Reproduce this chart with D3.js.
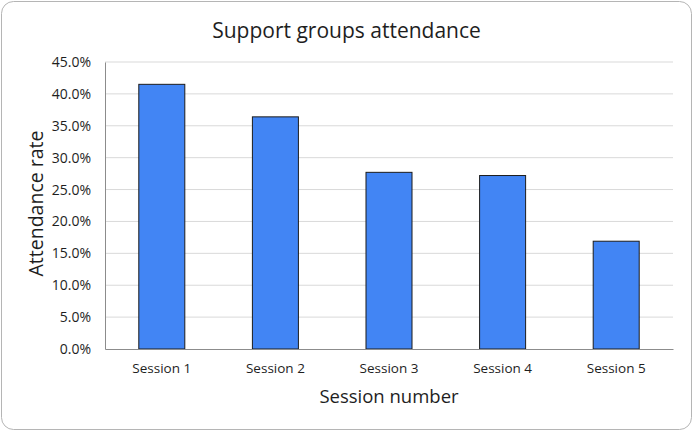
<!DOCTYPE html>
<html>
<head>
<meta charset="utf-8">
<script src="https://cdn.jsdelivr.net/npm/d3@7"></script>
<style>
  body { margin: 0; background: white; }
  text { font-family: "Open Sans", "Noto Sans", sans-serif; fill: #1e1e1e; }
</style>
</head>
<body>
<div id="chart"></div>
<script>
const sessions = ["Session 1", "Session 2", "Session 3", "Session 4", "Session 5"];
const attendance = [0.415, 0.364, 0.277, 0.272, 0.169];
const yTicks = [0, 0.05, 0.10, 0.15, 0.20, 0.25, 0.30, 0.35, 0.40, 0.45];

const width = 693, height = 431;
const margin = {top: 62, right: 20, bottom: 82, left: 105};

const svg = d3.select("#chart")
  .append("svg")
    .attr("width", width)
    .attr("height", height)
    .style("display", "block")

// outer frame
svg.append("rect")
  .attr("x", 1.5).attr("y", 1.5)
  .attr("width", width - 3).attr("height", height - 3)
  .attr("rx", 12)
  .attr("fill", "white")
  .attr("stroke", "#b5b5b5")

const x = d3.scaleBand()
  .domain(sessions)
  .range([margin.left, width - margin.right])

const y = d3.scaleLinear()
  .domain([0, 0.45])
  .range([height - margin.bottom, margin.top])

// gridlines
svg.append("g")
  .selectAll("line")
  .data(yTicks.slice(1))
  .join("line")
    .attr("x1", margin.left).attr("x2", width - margin.right)
    .attr("y1", d => y(d)).attr("y2", d => y(d))
    .attr("stroke", "#d9d9d9")

// bars
const barW = x.bandwidth() * 0.405
svg.append("g")
  .selectAll("rect")
  .data(attendance)
  .join("rect")
    .attr("x", (d, i) => x(sessions[i]) + (x.bandwidth() - barW) / 2)
    .attr("y", d => y(d))
    .attr("width", barW)
    .attr("height", d => y(0) - y(d))
    .attr("fill", "#4285f4")
    .attr("stroke", "#1c1c1c")
    .attr("stroke-width", 1)

// y axis
const yAxis = svg.append("g")
  .attr("transform", `translate(${margin.left},0)`)
  .call(d3.axisLeft(y).tickValues(yTicks).tickFormat(d3.format(".1%")).tickSize(0).tickPadding(14))
yAxis.select(".domain").attr("stroke", "#8c8c8c")
yAxis.selectAll("text").style("font-size", "14px").style("font-family", "\"Open Sans\", sans-serif").attr("fill", "#1e1e1e")

// x axis
const xAxis = svg.append("g")
  .attr("transform", `translate(0,${y(0)})`)
  .call(d3.axisBottom(x).tickSize(0).tickPadding(14))
xAxis.select(".domain").attr("stroke", "#8c8c8c")
xAxis.selectAll("text").style("font-size", "13.5px").style("font-family", "\"Open Sans\", sans-serif").attr("fill", "#1e1e1e")

// titles
svg.append("text")
  .attr("x", width / 2)
  .attr("y", 38)
  .attr("text-anchor", "middle")
  .style("font-size", "21px")
  .text("Support groups attendance")

svg.append("text")
  .attr("x", (margin.left + width - margin.right) / 2)
  .attr("y", 403)
  .attr("text-anchor", "middle")
  .style("font-size", "18.5px")
  .text("Session number")

svg.append("text")
  .attr("transform", `translate(43,${(margin.top + height - margin.bottom) / 2 - 2}) rotate(-90)`)
  .attr("text-anchor", "middle")
  .style("font-size", "19.5px")
  .text("Attendance rate")
</script>
</body>
</html>
